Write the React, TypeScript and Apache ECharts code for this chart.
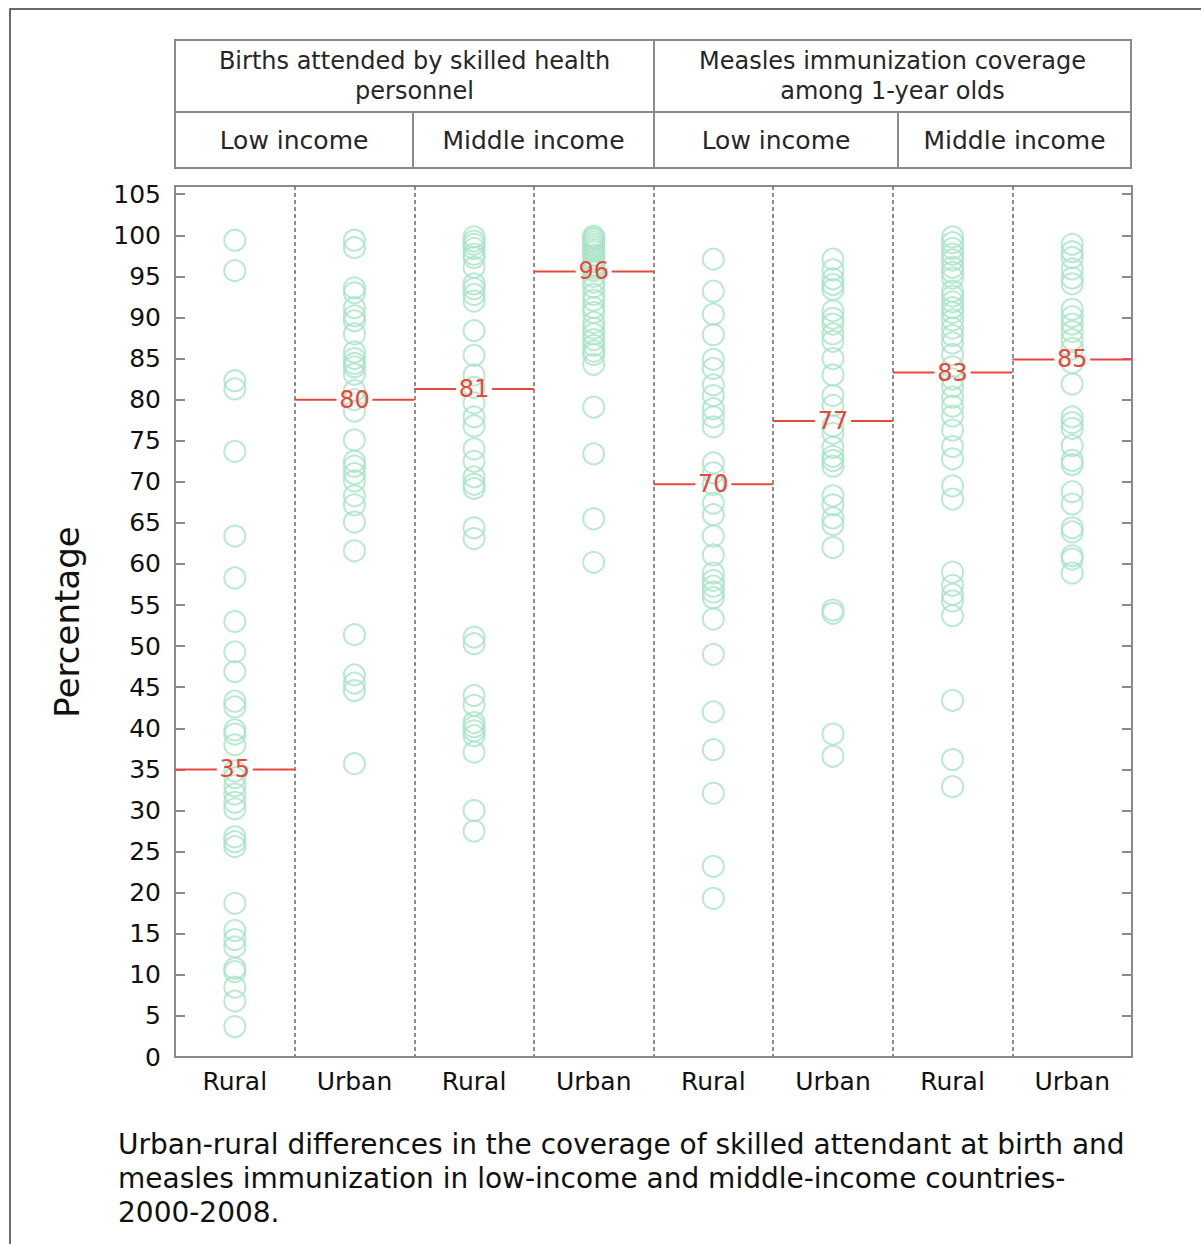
import React, { useEffect, useRef } from "react";
import * as echarts from "echarts";

// Column categories (x axis)
const categories = ["Rural", "Urban", "Rural", "Urban", "Rural", "Urban", "Rural", "Urban"];

// Births attended by skilled health personnel – low income
const birthsLowRural = [99.4, 95.7, 82.3, 81.3, 73.7, 63.4, 58.3, 53.0, 49.3, 46.9, 43.3, 42.6, 39.8, 39.3, 38.0, 34.8, 34.0, 33.0, 32.0, 31.0, 30.2, 26.8, 26.2, 25.6, 18.7, 15.4, 14.3, 13.4, 10.8, 10.4, 8.5, 6.8, 3.7];
const birthsLowUrban = [99.4, 98.5, 93.6, 93.0, 91.2, 90.2, 89.6, 88.0, 85.8, 85.0, 84.4, 84.0, 83.1, 81.1, 80.0, 78.6, 75.1, 72.5, 71.9, 71.0, 70.1, 68.3, 67.2, 65.1, 61.6, 51.4, 46.5, 45.5, 44.6, 35.7];
// Births attended – middle income
const birthsMidRural = [99.8, 99.3, 98.9, 98.4, 97.7, 97.3, 96.1, 94.1, 93.5, 92.8, 92.0, 88.4, 85.4, 83.0, 81.5, 79.6, 77.9, 76.8, 74.0, 72.5, 70.6, 69.7, 69.2, 64.4, 63.1, 51.1, 50.3, 44.0, 42.8, 40.7, 40.2, 39.7, 39.1, 37.1, 30.0, 27.5];
const birthsMidUrban = [99.9, 99.7, 99.5, 99.2, 98.9, 98.6, 98.3, 98.0, 97.6, 97.2, 96.8, 96.4, 96.0, 95.7, 95.0, 94.3, 93.7, 92.8, 92.1, 91.2, 90.6, 89.4, 88.7, 88.0, 87.3, 86.6, 85.9, 85.5, 84.3, 79.1, 73.4, 65.5, 60.2];
// Measles immunization – low income
const measlesLowRural = [97.1, 93.2, 90.4, 87.9, 84.9, 83.8, 81.8, 80.5, 78.9, 77.9, 76.7, 72.3, 71.1, 69.7, 67.4, 66.0, 63.4, 61.1, 58.9, 58.0, 57.3, 56.6, 55.9, 53.3, 49.0, 42.0, 37.4, 32.1, 23.2, 19.3];
const measlesLowUrban = [97.1, 95.8, 94.7, 94.0, 93.4, 90.8, 89.9, 89.2, 88.0, 87.1, 85.0, 83.0, 80.5, 79.3, 76.8, 75.9, 74.2, 73.1, 72.6, 71.9, 68.3, 67.2, 65.6, 64.8, 62.0, 54.4, 54.0, 39.3, 36.6];
// Measles immunization – middle income
const measlesMidRural = [99.8, 99.1, 98.4, 97.7, 97.0, 96.1, 95.5, 94.8, 93.2, 92.6, 91.9, 91.2, 90.6, 89.7, 88.7, 87.8, 86.9, 85.5, 84.0, 82.5, 81.6, 80.3, 79.2, 78.0, 76.3, 74.3, 72.8, 69.5, 67.9, 59.0, 57.4, 56.3, 55.5, 53.7, 43.4, 36.2, 32.9];
const measlesMidUrban = [98.9, 98.0, 97.3, 95.9, 94.8, 94.1, 91.0, 90.1, 89.2, 88.3, 87.3, 86.2, 84.5, 81.9, 77.9, 77.2, 76.5, 74.4, 72.6, 72.1, 68.8, 67.3, 64.4, 63.9, 61.0, 60.6, 58.9];

// Median lines per column
const medians = [35, 80, 81.3, 95.6, 69.7, 77.4, 83.3, 84.9];

// Header texts
const topHeaders = [
  ["Births attended by skilled health", "personnel"],
  ["Measles immunization coverage", "among 1-year olds"],
];
const subHeaders = ["Low income", "Middle income", "Low income", "Middle income"];
const yTitle = "Percentage";
const captionLines = [
  "Urban-rural differences in the coverage of skilled attendant at birth and",
  "measles immunization in low-income and middle-income countries-",
  "2000-2008.",
];

const columns = [
  birthsLowRural, birthsLowUrban, birthsMidRural, birthsMidUrban,
  measlesLowRural, measlesLowUrban, measlesMidRural, measlesMidUrban,
];

const FONT = '"DejaVu Sans", Verdana, sans-serif';
const GREEN = "#a6e3c5";
const RED = "#e8473c";
const GRAY = "#8a8a8c";

export default function App() {
  const ref = useRef<HTMLDivElement>(null);
  useEffect(() => {
    if (!ref.current) return;
    const chart = echarts.init(ref.current, undefined, { renderer: "svg" });

    const scatterData: number[][] = [];
    columns.forEach((col, i) => col.forEach((v) => scatterData.push([i, v])));

    // table geometry
    const tL = 175, tR = 1131, tT = 40, tM = 112, tB = 168;
    const colX = [175, 413, 654, 898, 1131];

    const center = { align: "center", verticalAlign: "middle", textAlign: "center", textVerticalAlign: "middle" };

    const graphics: any[] = [
      // outer frame
      { type: "rect", shape: { x: 10, y: 9, width: 1300, height: 1400 }, style: { fill: "none", stroke: "#3a3a3a", lineWidth: 1.5 }, silent: true },
      // header table
      { type: "rect", shape: { x: tL, y: tT, width: tR - tL, height: tB - tT }, style: { fill: "none", stroke: GRAY, lineWidth: 2 } },
      { type: "line", shape: { x1: tL, y1: tM, x2: tR, y2: tM }, style: { stroke: GRAY, lineWidth: 2 } },
      { type: "line", shape: { x1: colX[2], y1: tT, x2: colX[2], y2: tB }, style: { stroke: GRAY, lineWidth: 2 } },
      { type: "line", shape: { x1: colX[1], y1: tM, x2: colX[1], y2: tB }, style: { stroke: GRAY, lineWidth: 2 } },
      { type: "line", shape: { x1: colX[3], y1: tM, x2: colX[3], y2: tB }, style: { stroke: GRAY, lineWidth: 2 } },
    ];
    topHeaders.forEach((lines, i) => {
      lines.forEach((t, j) => {
        graphics.push({
          type: "text",
          x: (colX[i * 2] + colX[i * 2 + 2]) / 2,
          y: 61 + j * 30,
          style: { text: t, font: `24px ${FONT}`, lineHeight: 24, fill: "#262626", ...center },
        });
      });
    });
    subHeaders.forEach((t, i) => {
      graphics.push({
        type: "text",
        x: (colX[i] + colX[i + 1]) / 2,
        y: 140,
        style: { text: t, font: `25px ${FONT}`, fill: "#262626", ...center },
      });
    });
    graphics.push({
      type: "text",
      x: 67,
      y: 622,
      rotation: Math.PI / 2,
      style: { text: yTitle, font: `34px ${FONT}`, fill: "#111", ...center },
    });
    captionLines.forEach((t, i) => {
      graphics.push({
        type: "text",
        x: 118,
        y: 1144 + i * 34,
        style: { text: t, font: `28px ${FONT}`, lineHeight: 32, fill: "#111", align: "left", verticalAlign: "middle", textAlign: "left", textVerticalAlign: "middle" },
      });
    });

    chart.setOption({
      animation: false,
      backgroundColor: "#fff",
      grid: { left: 175, right: 69, top: 186, bottom: 187, show: true, borderColor: GRAY, borderWidth: 2, backgroundColor: "transparent" },
      xAxis: {
        type: "category",
        data: categories,
        boundaryGap: true,
        axisLine: { show: true, lineStyle: { color: GRAY, width: 2 } },
        axisTick: { show: false },
        axisLabel: { color: "#111", fontSize: 25, fontFamily: FONT, margin: 12, interval: 0 },
        splitLine: { show: true, interval: 0, lineStyle: { color: "#6a6a6a", width: 1.5, type: [4, 3] } },
      },
      yAxis: [
        {
          type: "value",
          min: 0,
          max: 106,
          interval: 5,
          position: "left",
          axisLine: { show: true, lineStyle: { color: GRAY, width: 2 } },
          axisTick: { show: true, inside: true, length: 10, lineStyle: { color: GRAY, width: 2 } },
          axisLabel: { color: "#111", fontSize: 25, fontFamily: FONT, margin: 14, formatter: (v: number) => (v % 5 === 0 ? String(v) : "") },
          splitLine: { show: false },
        },
        {
          type: "value",
          min: 0,
          max: 106,
          interval: 5,
          position: "right",
          axisLine: { show: true, lineStyle: { color: GRAY, width: 2 } },
          axisTick: { show: true, inside: true, length: 10, lineStyle: { color: GRAY, width: 2 } },
          axisLabel: { show: false },
          splitLine: { show: false },
        },
      ],
      series: [
        {
          type: "scatter",
          data: scatterData,
          symbol: "circle",
          symbolSize: 21,
          itemStyle: { color: "rgba(0,0,0,0)", borderColor: GREEN, borderWidth: 2 },
          z: 2,
        },
        {
          type: "custom",
          data: medians.map((m, i) => [i, m]),
          encode: { x: 0, y: 1 },
          z: 5,
          renderItem: (params: any, api: any) => {
            const c = api.coord([api.value(0), api.value(1)]);
            const w = api.size([1, 0])[0];
            const half = w / 2;
            const gap = 18;
            return {
              type: "group",
              children: [
                { type: "line", shape: { x1: c[0] - half, y1: c[1], x2: c[0] - gap, y2: c[1] }, style: { stroke: RED, lineWidth: 2 } },
                { type: "line", shape: { x1: c[0] + gap, y1: c[1], x2: c[0] + half, y2: c[1] }, style: { stroke: RED, lineWidth: 2 } },
                {
                  type: "text",
                  x: c[0],
                  y: c[1],
                  style: { text: String(Math.round(api.value(1))), fill: RED, font: `24px ${FONT}`, ...center },
                },
              ],
            };
          },
        },
      ],
      graphic: graphics,
    });

    return () => chart.dispose();
  }, []);

  return <div ref={ref} style={{ position: "absolute", left: 0, top: 0, width: 1201, height: 1244 }} />;
}
